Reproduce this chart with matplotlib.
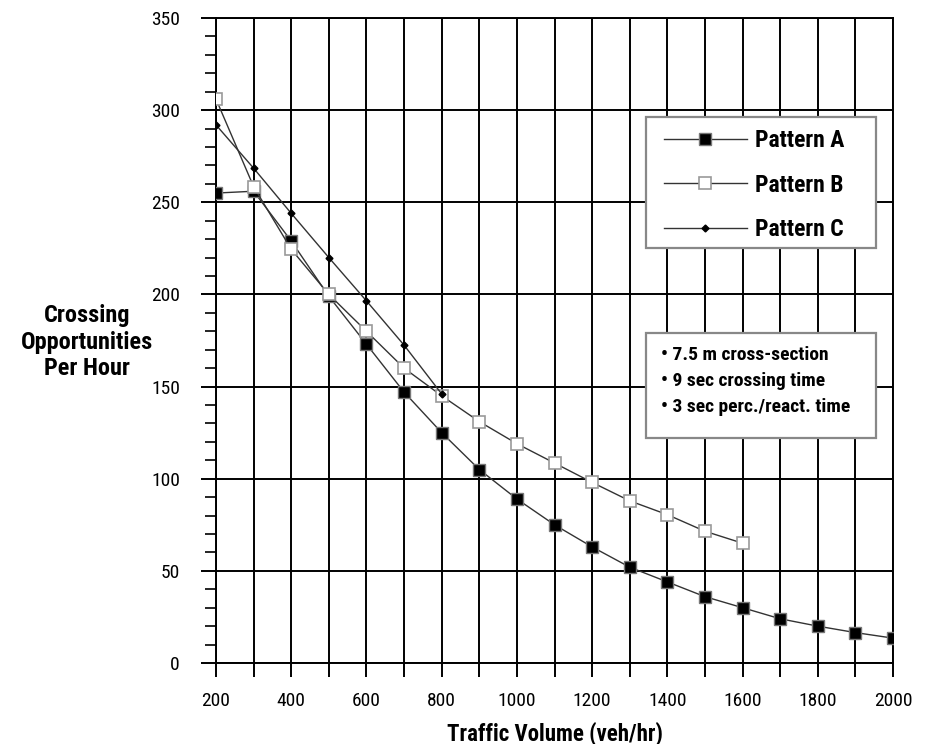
import matplotlib
matplotlib.use("Agg")
import matplotlib.pyplot as plt
from matplotlib.lines import Line2D
from matplotlib.patches import Rectangle
from matplotlib.ticker import MultipleLocator

# Traffic volume (veh/hr)
volume_a = [200, 300, 400, 500, 600, 700, 800, 900, 1000, 1100, 1200, 1300,
            1400, 1500, 1600, 1700, 1800, 1900, 2000]
volume_b = [200, 300, 400, 500, 600, 700, 800, 900, 1000, 1100, 1200, 1300,
            1400, 1500, 1600]
volume_c = [200, 300, 400, 500, 600, 700, 800]

# Crossing opportunities per hour
pattern_a = [255, 256, 229, 199, 173, 147, 125, 105, 89, 75, 63, 52, 44, 36,
             30, 24, 20, 16.5, 13.5]
pattern_b = [306, 258.5, 224.5, 200, 180, 160, 145, 131, 119, 108.5, 98, 88,
             80.5, 71.5, 65]
pattern_c = [292, 268.5, 244, 220, 196.5, 172.5, 146]

series_labels = ["Pattern A", "Pattern B", "Pattern C"]
notes = ["\u2022 7.5 m cross-section",
         "\u2022 9 sec crossing time",
         "\u2022 3 sec perc./react. time"]

FONT = ["Roboto Condensed", "DejaVu Sans"]
plt.rcParams["font.family"] = FONT

W, H = 935, 744
fig = plt.figure(figsize=(W / 100, H / 100), dpi=100)
ax = fig.add_axes([216 / W, 1 - 663 / H, (893 - 216) / W, (663 - 18) / H])

style_a = dict(color="#333333", lw=1.0, marker="s", ms=8, mfc="black",
               mec="#777777", mew=1.0)
style_b = dict(color="#333333", lw=1.0, marker="s", ms=9, mfc="white",
               mec="#999999", mew=1.2)
style_c = dict(color="#333333", lw=1.0, marker="D", ms=3.5, mfc="black",
               mec="black")

ax.plot(volume_a, pattern_a, zorder=3, **style_a)
ax.plot(volume_b, pattern_b, zorder=3, **style_b)
ax.plot(volume_c, pattern_c, zorder=3, **style_c)

ax.set_xlim(200, 2000)
ax.set_ylim(0, 350)
ax.set_xticks(range(200, 2001, 100))
ax.set_xticklabels([str(v) if v % 200 == 0 else ""
                    for v in range(200, 2001, 100)])
ax.yaxis.set_major_locator(MultipleLocator(50))
ax.yaxis.set_minor_locator(MultipleLocator(10))
ax.grid(True, which="major", color="black", lw=1.4, zorder=1)

ax.tick_params(axis="x", which="major", direction="out", length=10, width=1.4,
               labelsize=14, pad=11, colors="black")
ax.tick_params(axis="y", which="major", direction="out", length=11, width=1.4,
               labelsize=14, pad=15)
ax.tick_params(axis="y", which="minor", direction="out", length=8, width=1.2)
for sp in ax.spines.values():
    sp.set_color("black")
    sp.set_linewidth(1.4)

ax.set_xlabel("Traffic Volume (veh/hr)", fontsize=16.5, fontweight="bold",
              labelpad=8)
fig.text(87 / W, 1 - 342 / H, "Crossing\nOpportunities\nPer Hour",
         ha="center", va="center", fontsize=17.5, fontweight="bold",
         linespacing=1.2)

# Legend with a plain grey frame
ax.add_patch(Rectangle((646 / W, 1 - 248 / H), (876 - 646) / W,
                       (248 - 117) / H, transform=fig.transFigure,
                       facecolor="white", edgecolor="#888888", lw=1.6,
                       zorder=4, clip_on=False))
handles = [Line2D([], [], **style_a), Line2D([], [], **style_b),
           Line2D([], [], **style_c)]
leg = ax.legend(handles, series_labels, loc="upper left",
                bbox_to_anchor=(664 / W, 1 - 129 / H),
                bbox_transform=fig.transFigure, borderaxespad=0, borderpad=0,
                prop=dict(family=FONT, weight="bold", size=17),
                handlelength=3.5, handletextpad=0.35, labelspacing=0.92,
                frameon=False)
leg.set_zorder(5)

# Assumptions box
ax.add_patch(Rectangle((646 / W, 1 - 438 / H), (876 - 646) / W,
                       (438 - 333) / H, transform=fig.transFigure,
                       facecolor="white", edgecolor="#888888", lw=1.6,
                       zorder=4, clip_on=False))
for i, note in enumerate(notes):
    fig.text(661 / W, 1 - (355 + 26 * i) / H, note, ha="left", va="center",
             fontsize=14, fontweight="bold", zorder=6)

fig.savefig("out.png", dpi=100)
